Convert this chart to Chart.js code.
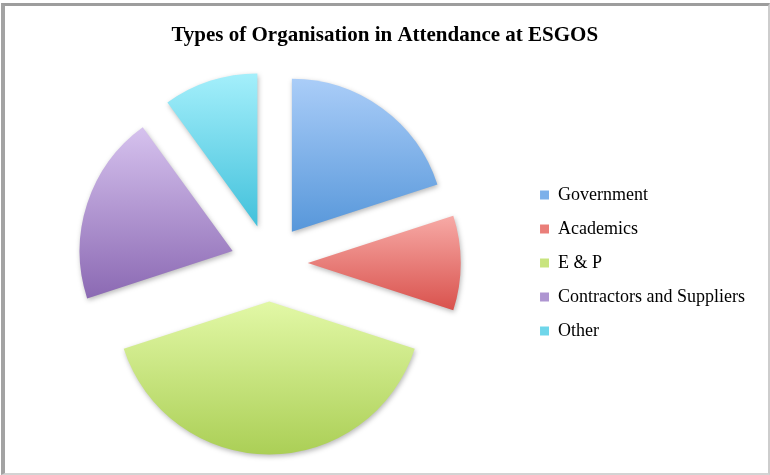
<!DOCTYPE html>
<html>
<head>
<meta charset="utf-8">
<script src="https://cdn.jsdelivr.net/npm/chart.js@4.4.1/dist/chart.umd.min.js"></script>
<style>
  html, body { margin: 0; padding: 0; background: #fff; }
  #wrap { position: relative; width: 770px; height: 475px; }
  #frame {
    position: absolute; left: 1px; top: 3px; right: 0; bottom: 0;
    box-sizing: border-box; pointer-events: none;
    border-top: 3px solid #9d9d9d; border-left: 4px solid #a3a3a3;
    border-right: 2px solid #cdcdcd; border-bottom: 2px solid #d3d3d3;
  }
</style>
</head>
<body>
<div id="wrap">
  <canvas id="orgChart" width="770" height="475"></canvas>
  <div id="frame"></div>
</div>
<script>
// Chart data
const chartTitle = "Types of Organisation in Attendance at ESGOS";
const categories = ["Government", "Academics", "E & P", "Contractors and Suppliers", "Other"];
const shares = [20, 10, 40, 20, 10];

// Slice colours: light at the top of a slice, darker at the bottom
const topColors = ["#aacdf8", "#f7aaa6", "#e2f8a6", "#d6c2ee", "#a4effb"];
const bottomColors = ["#5797da", "#d9524d", "#abcf56", "#8b69b3", "#42c1db"];
const legendColors = ["#7cb0ea", "#ea7e79", "#c8e47e", "#ae95d1", "#6fd6ea"];

const explode = 38.5;   // how far each slice is pulled out
const pieRadius = 153;

// vertical gradient spanning the slice's own height
function sliceGradient(ctx) {
  const chart = ctx.chart;
  const area = chart.chartArea;
  const i = ctx.dataIndex;
  if (!area || i === undefined) return legendColors[i] || "#ccc";
  const total = shares.reduce((a, b) => a + b, 0);
  let before = 0;
  for (let k = 0; k < i; k++) before += shares[k];
  const a0 = -Math.PI / 2 + 2 * Math.PI * before / total;
  const a1 = a0 + 2 * Math.PI * shares[i] / total;
  const mid = (a0 + a1) / 2;
  const cy = (area.top + area.bottom) / 2 + Math.sin(mid) * explode;
  const ys = [cy, cy + pieRadius * Math.sin(a0), cy + pieRadius * Math.sin(a1)];
  [Math.PI / 2, 3 * Math.PI / 2].forEach(t => {
    if (t > a0 && t < a1) ys.push(cy + pieRadius * Math.sin(t));
  });
  const g = chart.ctx.createLinearGradient(0, Math.min(...ys), 0, Math.max(...ys));
  g.addColorStop(0, topColors[i]);
  g.addColorStop(1, bottomColors[i]);
  return g;
}

// pull every slice out from the centre (v4's own offset also grows the radius)
const explodePlugin = {
  id: "explode",
  afterDatasetUpdate(chart, args) {
    args.meta.data.forEach(arc => {
      const mid = (arc.startAngle + arc.endAngle) / 2;
      arc.x += Math.cos(mid) * explode;
      arc.y += Math.sin(mid) * explode;
    });
  }
};

// soft drop shadow under the slices
const shadowPlugin = {
  id: "sliceShadow",
  beforeDatasetsDraw(chart) {
    const c = chart.ctx;
    c.save();
    c.shadowColor = "rgba(0,0,0,0.28)";
    c.shadowBlur = 5;
    c.shadowOffsetX = 1;
    c.shadowOffsetY = 2;
  },
  afterDatasetsDraw(chart) {
    chart.ctx.restore();
  }
};

new Chart(document.getElementById("orgChart"), {
  type: "pie",
  data: {
    labels: categories,
    datasets: [{
      data: shares,
      backgroundColor: sliceGradient,
      borderWidth: 0,
      hoverOffset: 0
    }]
  },
  options: {
    responsive: false,
    animation: false,
    radius: pieRadius,
    layout: { padding: { left: 14.5, right: 15, top: 10, bottom: 10 } },
    plugins: {
      title: {
        display: true,
        text: chartTitle,
        color: "#000",
        font: { family: "'Liberation Serif', serif", size: 21, weight: "bold" },
        padding: { top: 13.4, bottom: 12.4 }
      },
      legend: {
        position: "right",
        align: "center",
        fullSize: false,
        labels: {
          boxWidth: 9,
          boxHeight: 9,
          padding: 16,
          color: "#111",
          font: { family: "'Liberation Serif', serif", size: 18 },
          generateLabels() {
            return categories.map((c, i) => ({
              text: c,
              fillStyle: legendColors[i],
              strokeStyle: legendColors[i],
              lineWidth: 0,
              hidden: false,
              index: i
            }));
          }
        }
      },
      tooltip: { enabled: false }
    }
  },
  plugins: [explodePlugin, shadowPlugin]
});
</script>
</body>
</html>
